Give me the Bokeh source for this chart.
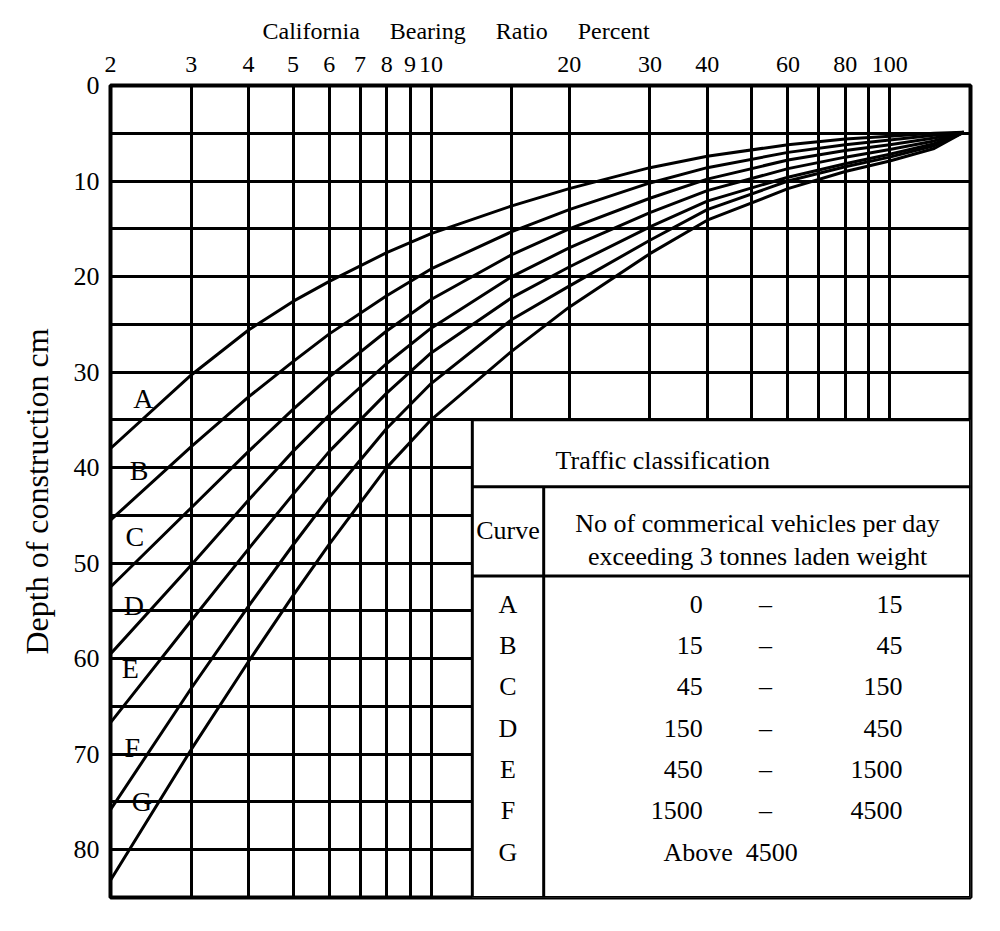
from bokeh.plotting import figure
from bokeh.models import FixedTicker, Range1d
from bokeh.embed import file_html
from bokeh.resources import INLINE
from bokeh.core.properties import value

FONT = "Liberation Serif"
NB = "\u00a0"

# ---------------- data ----------------
cbr = [2, 3, 4, 5, 6, 8, 10, 15, 20, 30, 40, 60, 80, 100, 125, 145]
depth_A = [38.0, 30.3, 25.6, 22.6, 20.5, 17.5, 15.5, 12.6, 10.8, 8.6, 7.4, 6.2, 5.6, 5.3, 5.0, 4.9]
depth_B = [45.5, 37.8, 32.6, 28.9, 26.0, 22.0, 19.2, 15.3, 13.0, 10.2, 8.6, 7.0, 6.2, 5.7, 5.2, 4.9]
depth_C = [52.5, 44.2, 38.3, 33.9, 30.5, 25.7, 22.4, 17.7, 15.0, 11.8, 9.8, 7.8, 6.8, 6.2, 5.5, 4.9]
depth_D = [59.5, 50.2, 43.4, 38.3, 34.5, 29.1, 25.4, 20.0, 17.0, 13.3, 11.0, 8.7, 7.5, 6.7, 5.8, 4.9]
depth_E = [66.7, 56.0, 48.5, 42.8, 38.3, 32.2, 28.0, 22.2, 19.0, 14.8, 12.1, 9.6, 8.2, 7.2, 6.1, 4.9]
depth_F = [75.8, 63.1, 54.5, 48.1, 43.1, 35.9, 31.2, 24.5, 21.0, 16.2, 13.0, 10.0, 8.5, 7.5, 6.3, 4.9]
depth_G = [83.2, 69.5, 60.3, 53.4, 48.0, 40.0, 35.0, 27.8, 23.2, 17.6, 14.1, 10.8, 9.0, 7.9, 6.6, 4.9]
curves = [depth_A, depth_B, depth_C, depth_D, depth_E, depth_F, depth_G]

curve_names = ["A", "B", "C", "D", "E", "F", "G"]
curve_label_x = [2.36, 2.31, 2.26, 2.25, 2.21, 2.23, 2.34]
curve_label_y = [32.8, 40.3, 47.2, 54.4, 61.0, 69.3, 75.0]

x_tick_values = [2, 3, 4, 5, 6, 7, 8, 9, 10, 20, 30, 40, 60, 80, 100]
x_grid_values = [3, 4, 5, 6, 7, 8, 9, 10, 15, 20, 30, 40, 50, 60, 70, 80, 90, 100]
y_tick_values = [0, 10, 20, 30, 40, 50, 60, 70, 80]
y_grid_values = [5, 10, 15, 20, 25, 30, 35, 40, 45, 50, 55, 60, 65, 70, 75, 80]

title_words = ["California", "Bearing", "Ratio", "Percent"]
y_title = "Depth of construction cm"

table_title = "Traffic classification"
table_col1 = "Curve"
table_col2_lines = ["No of commerical vehicles per day", "exceeding 3 tonnes laden weight"]
traffic_from = ["0", "15", "45", "150", "450", "1500"]
traffic_to = ["15", "45", "150", "450", "1500", "4500"]
traffic_last = "Above" + NB + NB + "4500"

# ---------------- figure ----------------
p = figure(width=992, height=923, x_axis_type="log", x_axis_location="above",
           x_range=Range1d(2, 150), y_range=Range1d(85, 0),
           output_backend="svg", toolbar_location=None,
           title=(NB * 5).join(title_words),
           min_border_left=110, min_border_right=22, min_border_top=85, min_border_bottom=26,
           background_fill_color="white", border_fill_color="white")

p.title.align = "left"
p.title.offset = 152
p.title.text_font = FONT
p.title.text_font_size = "24px"
p.title.text_font_style = "normal"
p.title.text_color = "black"
p.title.standoff = 20

p.outline_line_color = "black"
p.outline_line_width = 4

p.xgrid.ticker = FixedTicker(ticks=x_grid_values)
p.ygrid.ticker = FixedTicker(ticks=y_grid_values)
for g in (p.xgrid, p.ygrid):
    g.grid_line_color = "black"
    g.grid_line_width = 3
    g.grid_line_alpha = 1.0
    g.minor_grid_line_color = None

p.xaxis.ticker = FixedTicker(ticks=x_tick_values)
p.xaxis.major_label_overrides = {t: str(t) for t in x_tick_values}
p.yaxis.ticker = FixedTicker(ticks=y_tick_values)
for ax in (p.xaxis, p.yaxis):
    ax.axis_line_color = None
    ax.major_tick_line_color = None
    ax.minor_tick_line_color = None
    ax.major_label_text_font = FONT
    ax.major_label_text_color = "black"
ax = p.xaxis[0]
ax.major_label_text_font_size = "24px"
ax.major_label_standoff = 8
ay = p.yaxis[0]
ay.major_label_text_font_size = "26px"
ay.major_label_standoff = 5
ay.axis_label = y_title
ay.axis_label_text_font = FONT
ay.axis_label_text_font_size = "32px"
ay.axis_label_text_font_style = "normal"
ay.axis_label_text_color = "black"
ay.axis_label_standoff = 16

# curves
for d in curves:
    p.line(cbr, d, line_color="black", line_width=3, line_join="round")

# curve letters
p.text(x=curve_label_x, y=curve_label_y, text=curve_names, text_font=value(FONT),
       text_font_size="28px", text_align="center", text_baseline="middle", text_color="black")

# ---------------- table ----------------
t_left, t_right, t_top, t_bottom = 12.3, 150, 35, 85
t_div_x = 17.6
t_row1, t_row2 = 42.0, 51.35
p.quad(left=[t_left], right=[t_right], top=[t_top], bottom=[t_bottom],
       fill_color="white", line_color="black", line_width=3)
p.segment(x0=[t_left, t_left, t_div_x], y0=[t_row1, t_row2, t_row1],
          x1=[t_right, t_right, t_div_x], y1=[t_row1, t_row2, t_bottom],
          line_color="black", line_width=3)

tf = dict(text_font=value(FONT), text_font_size="26px", text_baseline="middle", text_color="black")
p.text(x=[32.0], y=[39.3], text=[table_title], text_align="center", **tf)
p.text(x=[14.71], y=[46.6], text=[table_col1], text_align="center", **tf)
p.text(x=[51.5, 51.5], y=[45.9, 49.3], text=table_col2_lines, text_align="center", **tf)

row_y = [54.3, 58.6, 62.9, 67.3, 71.6, 75.9, 80.3]
p.text(x=[14.71] * 7, y=row_y, text=curve_names, text_align="center", **tf)
p.text(x=[39.1] * 6, y=row_y[:6], text=traffic_from, text_align="right", **tf)
p.text(x=[53.6] * 6, y=row_y[:6], text=["\u2013"] * 6, text_align="center", **tf)
p.text(x=[106.6] * 6, y=row_y[:6], text=traffic_to, text_align="right", **tf)
p.text(x=[45.0], y=[row_y[6]], text=[traffic_last], text_align="center", **tf)

open("out.html", "w").write(file_html(p, INLINE))
